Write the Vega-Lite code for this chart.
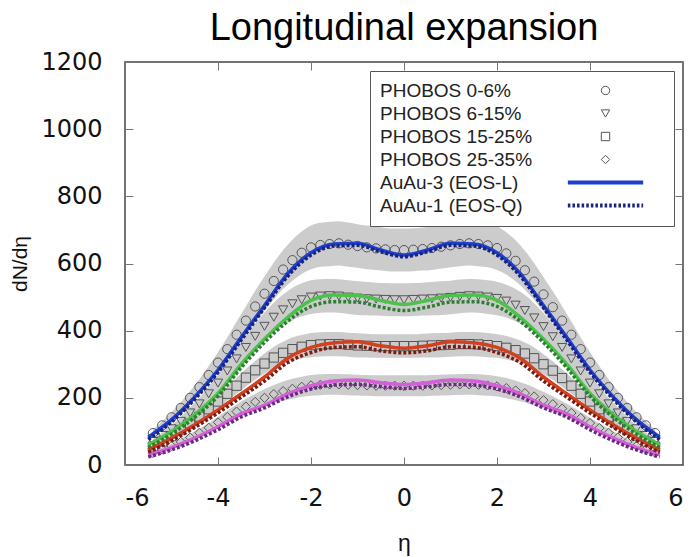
{
"$schema": "https://vega.github.io/schema/vega-lite/v6.json",
"width": 558, "height": 403,
"autosize": {"type": "none"},
"padding": {"left": 125, "top": 62, "right": 14, "bottom": 92},
"background": "white",
"title": {"text": "Longitudinal expansion", "font": "Liberation Sans", "fontSize": 38, "fontWeight": "normal", "color": "#000", "anchor": "middle", "offset": 2},
"config": {
  "view": {"stroke": "#444", "strokeWidth": 1.5},
  "axis": {"labelFont": "DejaVu Sans", "labelFontSize": 24, "labelColor": "#111", "titleFont": "Liberation Sans", "titleFontWeight": "normal", "titleColor": "#111", "domain": false, "grid": false, "tickColor": "#777", "tickWidth": 1, "tickSize": -8, "labelExpr": "datum.value + ''"},
  "legend": {"title": null, "orient": "top-right", "offset": 9, "strokeColor": "#555", "fillColor": "white", "padding": 10,
    "labelFont": "Liberation Sans", "labelFontSize": 19, "labelColor": "#222", "labelLimit": 300,
    "symbolOffset": 216, "labelOffset": -235, "rowPadding": 3, "symbolSize": 70, "symbolStrokeWidth": 1, "symbolOpacity": 1}
},
"datasets": {
"phobos": [
{"e":-5.4,"v":95,"lo":86,"hi":105,"s":"PHOBOS 0-6%"},{"e":-5.2,"v":118,"lo":106,"hi":130,"s":"PHOBOS 0-6%"},{"e":-5.0,"v":142,"lo":128,"hi":156,"s":"PHOBOS 0-6%"},{"e":-4.8,"v":170,"lo":153,"hi":187,"s":"PHOBOS 0-6%"},{"e":-4.6,"v":200,"lo":180,"hi":220,"s":"PHOBOS 0-6%"},{"e":-4.4,"v":232,"lo":209,"hi":255,"s":"PHOBOS 0-6%"},{"e":-4.2,"v":268,"lo":241,"hi":295,"s":"PHOBOS 0-6%"},{"e":-4.0,"v":305,"lo":275,"hi":336,"s":"PHOBOS 0-6%"},{"e":-3.8,"v":345,"lo":311,"hi":380,"s":"PHOBOS 0-6%"},{"e":-3.6,"v":388,"lo":349,"hi":427,"s":"PHOBOS 0-6%"},{"e":-3.4,"v":430,"lo":387,"hi":473,"s":"PHOBOS 0-6%"},{"e":-3.2,"v":472,"lo":425,"hi":519,"s":"PHOBOS 0-6%"},{"e":-3.0,"v":510,"lo":459,"hi":561,"s":"PHOBOS 0-6%"},{"e":-2.8,"v":548,"lo":493,"hi":603,"s":"PHOBOS 0-6%"},{"e":-2.6,"v":582,"lo":524,"hi":640,"s":"PHOBOS 0-6%"},{"e":-2.4,"v":610,"lo":549,"hi":671,"s":"PHOBOS 0-6%"},{"e":-2.2,"v":632,"lo":569,"hi":695,"s":"PHOBOS 0-6%"},{"e":-2.0,"v":648,"lo":583,"hi":713,"s":"PHOBOS 0-6%"},{"e":-1.8,"v":655,"lo":590,"hi":721,"s":"PHOBOS 0-6%"},{"e":-1.6,"v":658,"lo":592,"hi":724,"s":"PHOBOS 0-6%"},{"e":-1.4,"v":660,"lo":594,"hi":726,"s":"PHOBOS 0-6%"},{"e":-1.2,"v":656,"lo":590,"hi":722,"s":"PHOBOS 0-6%"},{"e":-1.0,"v":652,"lo":587,"hi":717,"s":"PHOBOS 0-6%"},{"e":-0.8,"v":648,"lo":583,"hi":713,"s":"PHOBOS 0-6%"},{"e":-0.6,"v":645,"lo":581,"hi":710,"s":"PHOBOS 0-6%"},{"e":-0.4,"v":642,"lo":578,"hi":706,"s":"PHOBOS 0-6%"},{"e":-0.2,"v":640,"lo":576,"hi":704,"s":"PHOBOS 0-6%"},{"e":0.0,"v":640,"lo":576,"hi":704,"s":"PHOBOS 0-6%"},
{"e":0.2,"v":641,"lo":577,"hi":705,"s":"PHOBOS 0-6%"},{"e":0.4,"v":643,"lo":579,"hi":707,"s":"PHOBOS 0-6%"},{"e":0.6,"v":646,"lo":581,"hi":711,"s":"PHOBOS 0-6%"},{"e":0.8,"v":650,"lo":585,"hi":715,"s":"PHOBOS 0-6%"},{"e":1.0,"v":654,"lo":589,"hi":719,"s":"PHOBOS 0-6%"},{"e":1.2,"v":658,"lo":592,"hi":724,"s":"PHOBOS 0-6%"},{"e":1.4,"v":660,"lo":594,"hi":726,"s":"PHOBOS 0-6%"},{"e":1.6,"v":658,"lo":592,"hi":724,"s":"PHOBOS 0-6%"},{"e":1.8,"v":654,"lo":589,"hi":719,"s":"PHOBOS 0-6%"},{"e":2.0,"v":646,"lo":581,"hi":711,"s":"PHOBOS 0-6%"},{"e":2.2,"v":630,"lo":567,"hi":693,"s":"PHOBOS 0-6%"},{"e":2.4,"v":608,"lo":547,"hi":669,"s":"PHOBOS 0-6%"},{"e":2.6,"v":580,"lo":522,"hi":638,"s":"PHOBOS 0-6%"},{"e":2.8,"v":546,"lo":491,"hi":601,"s":"PHOBOS 0-6%"},{"e":3.0,"v":508,"lo":457,"hi":559,"s":"PHOBOS 0-6%"},{"e":3.2,"v":470,"lo":423,"hi":517,"s":"PHOBOS 0-6%"},{"e":3.4,"v":430,"lo":387,"hi":473,"s":"PHOBOS 0-6%"},{"e":3.6,"v":388,"lo":349,"hi":427,"s":"PHOBOS 0-6%"},{"e":3.8,"v":345,"lo":311,"hi":380,"s":"PHOBOS 0-6%"},{"e":4.0,"v":305,"lo":275,"hi":336,"s":"PHOBOS 0-6%"},{"e":4.2,"v":268,"lo":241,"hi":295,"s":"PHOBOS 0-6%"},{"e":4.4,"v":232,"lo":209,"hi":255,"s":"PHOBOS 0-6%"},{"e":4.6,"v":200,"lo":180,"hi":220,"s":"PHOBOS 0-6%"},{"e":4.8,"v":170,"lo":153,"hi":187,"s":"PHOBOS 0-6%"},{"e":5.0,"v":142,"lo":128,"hi":156,"s":"PHOBOS 0-6%"},{"e":5.2,"v":118,"lo":106,"hi":130,"s":"PHOBOS 0-6%"},{"e":5.4,"v":95,"lo":86,"hi":105,"s":"PHOBOS 0-6%"},
{"e":-5.4,"v":70,"lo":63,"hi":77,"s":"PHOBOS 6-15%"},{"e":-5.2,"v":88,"lo":79,"hi":97,"s":"PHOBOS 6-15%"},{"e":-5.0,"v":108,"lo":97,"hi":119,"s":"PHOBOS 6-15%"},{"e":-4.8,"v":130,"lo":117,"hi":143,"s":"PHOBOS 6-15%"},{"e":-4.6,"v":155,"lo":140,"hi":171,"s":"PHOBOS 6-15%"},{"e":-4.4,"v":182,"lo":164,"hi":200,"s":"PHOBOS 6-15%"},{"e":-4.2,"v":212,"lo":191,"hi":233,"s":"PHOBOS 6-15%"},{"e":-4.0,"v":244,"lo":220,"hi":268,"s":"PHOBOS 6-15%"},{"e":-3.8,"v":280,"lo":252,"hi":308,"s":"PHOBOS 6-15%"},{"e":-3.6,"v":316,"lo":284,"hi":348,"s":"PHOBOS 6-15%"},{"e":-3.4,"v":350,"lo":315,"hi":385,"s":"PHOBOS 6-15%"},{"e":-3.2,"v":383,"lo":345,"hi":421,"s":"PHOBOS 6-15%"},{"e":-3.0,"v":413,"lo":372,"hi":454,"s":"PHOBOS 6-15%"},{"e":-2.8,"v":440,"lo":396,"hi":484,"s":"PHOBOS 6-15%"},{"e":-2.6,"v":462,"lo":416,"hi":508,"s":"PHOBOS 6-15%"},{"e":-2.4,"v":480,"lo":432,"hi":528,"s":"PHOBOS 6-15%"},{"e":-2.2,"v":492,"lo":443,"hi":541,"s":"PHOBOS 6-15%"},{"e":-2.0,"v":500,"lo":450,"hi":550,"s":"PHOBOS 6-15%"},{"e":-1.8,"v":503,"lo":453,"hi":553,"s":"PHOBOS 6-15%"},{"e":-1.6,"v":504,"lo":454,"hi":554,"s":"PHOBOS 6-15%"},{"e":-1.4,"v":503,"lo":453,"hi":553,"s":"PHOBOS 6-15%"},{"e":-1.2,"v":500,"lo":450,"hi":550,"s":"PHOBOS 6-15%"},{"e":-1.0,"v":497,"lo":447,"hi":547,"s":"PHOBOS 6-15%"},{"e":-0.8,"v":495,"lo":446,"hi":545,"s":"PHOBOS 6-15%"},{"e":-0.6,"v":494,"lo":445,"hi":543,"s":"PHOBOS 6-15%"},{"e":-0.4,"v":493,"lo":444,"hi":542,"s":"PHOBOS 6-15%"},{"e":-0.2,"v":492,"lo":443,"hi":541,"s":"PHOBOS 6-15%"},{"e":0.0,"v":492,"lo":443,"hi":541,"s":"PHOBOS 6-15%"},
{"e":0.2,"v":493,"lo":444,"hi":542,"s":"PHOBOS 6-15%"},{"e":0.4,"v":494,"lo":445,"hi":543,"s":"PHOBOS 6-15%"},{"e":0.6,"v":495,"lo":446,"hi":545,"s":"PHOBOS 6-15%"},{"e":0.8,"v":497,"lo":447,"hi":547,"s":"PHOBOS 6-15%"},{"e":1.0,"v":499,"lo":449,"hi":549,"s":"PHOBOS 6-15%"},{"e":1.2,"v":502,"lo":452,"hi":552,"s":"PHOBOS 6-15%"},{"e":1.4,"v":504,"lo":454,"hi":554,"s":"PHOBOS 6-15%"},{"e":1.6,"v":503,"lo":453,"hi":553,"s":"PHOBOS 6-15%"},{"e":1.8,"v":500,"lo":450,"hi":550,"s":"PHOBOS 6-15%"},{"e":2.0,"v":496,"lo":446,"hi":546,"s":"PHOBOS 6-15%"},{"e":2.2,"v":488,"lo":439,"hi":537,"s":"PHOBOS 6-15%"},{"e":2.4,"v":476,"lo":428,"hi":524,"s":"PHOBOS 6-15%"},{"e":2.6,"v":460,"lo":414,"hi":506,"s":"PHOBOS 6-15%"},{"e":2.8,"v":438,"lo":394,"hi":482,"s":"PHOBOS 6-15%"},{"e":3.0,"v":412,"lo":371,"hi":453,"s":"PHOBOS 6-15%"},{"e":3.2,"v":382,"lo":344,"hi":420,"s":"PHOBOS 6-15%"},{"e":3.4,"v":350,"lo":315,"hi":385,"s":"PHOBOS 6-15%"},{"e":3.6,"v":316,"lo":284,"hi":348,"s":"PHOBOS 6-15%"},{"e":3.8,"v":280,"lo":252,"hi":308,"s":"PHOBOS 6-15%"},{"e":4.0,"v":244,"lo":220,"hi":268,"s":"PHOBOS 6-15%"},{"e":4.2,"v":212,"lo":191,"hi":233,"s":"PHOBOS 6-15%"},{"e":4.4,"v":182,"lo":164,"hi":200,"s":"PHOBOS 6-15%"},{"e":4.6,"v":155,"lo":140,"hi":171,"s":"PHOBOS 6-15%"},{"e":4.8,"v":130,"lo":117,"hi":143,"s":"PHOBOS 6-15%"},{"e":5.0,"v":108,"lo":97,"hi":119,"s":"PHOBOS 6-15%"},{"e":5.2,"v":88,"lo":79,"hi":97,"s":"PHOBOS 6-15%"},{"e":5.4,"v":70,"lo":63,"hi":77,"s":"PHOBOS 6-15%"},
{"e":-5.4,"v":55,"lo":50,"hi":61,"s":"PHOBOS 15-25%"},{"e":-5.2,"v":70,"lo":63,"hi":77,"s":"PHOBOS 15-25%"},{"e":-5.0,"v":86,"lo":77,"hi":95,"s":"PHOBOS 15-25%"},{"e":-4.8,"v":104,"lo":94,"hi":114,"s":"PHOBOS 15-25%"},{"e":-4.6,"v":123,"lo":111,"hi":135,"s":"PHOBOS 15-25%"},{"e":-4.4,"v":144,"lo":130,"hi":158,"s":"PHOBOS 15-25%"},{"e":-4.2,"v":166,"lo":149,"hi":183,"s":"PHOBOS 15-25%"},{"e":-4.0,"v":189,"lo":170,"hi":208,"s":"PHOBOS 15-25%"},{"e":-3.8,"v":212,"lo":191,"hi":233,"s":"PHOBOS 15-25%"},{"e":-3.6,"v":236,"lo":212,"hi":260,"s":"PHOBOS 15-25%"},{"e":-3.4,"v":260,"lo":234,"hi":286,"s":"PHOBOS 15-25%"},{"e":-3.2,"v":282,"lo":254,"hi":310,"s":"PHOBOS 15-25%"},{"e":-3.0,"v":302,"lo":272,"hi":332,"s":"PHOBOS 15-25%"},{"e":-2.8,"v":320,"lo":288,"hi":352,"s":"PHOBOS 15-25%"},{"e":-2.6,"v":334,"lo":301,"hi":367,"s":"PHOBOS 15-25%"},{"e":-2.4,"v":345,"lo":311,"hi":380,"s":"PHOBOS 15-25%"},{"e":-2.2,"v":352,"lo":317,"hi":387,"s":"PHOBOS 15-25%"},{"e":-2.0,"v":357,"lo":321,"hi":393,"s":"PHOBOS 15-25%"},{"e":-1.8,"v":359,"lo":323,"hi":395,"s":"PHOBOS 15-25%"},{"e":-1.6,"v":360,"lo":324,"hi":396,"s":"PHOBOS 15-25%"},{"e":-1.4,"v":360,"lo":324,"hi":396,"s":"PHOBOS 15-25%"},{"e":-1.2,"v":358,"lo":322,"hi":394,"s":"PHOBOS 15-25%"},{"e":-1.0,"v":356,"lo":320,"hi":392,"s":"PHOBOS 15-25%"},{"e":-0.8,"v":355,"lo":320,"hi":391,"s":"PHOBOS 15-25%"},{"e":-0.6,"v":354,"lo":319,"hi":389,"s":"PHOBOS 15-25%"},{"e":-0.4,"v":354,"lo":319,"hi":389,"s":"PHOBOS 15-25%"},{"e":-0.2,"v":354,"lo":319,"hi":389,"s":"PHOBOS 15-25%"},{"e":0.0,"v":354,"lo":319,"hi":389,"s":"PHOBOS 15-25%"},
{"e":0.2,"v":354,"lo":319,"hi":389,"s":"PHOBOS 15-25%"},{"e":0.4,"v":355,"lo":320,"hi":391,"s":"PHOBOS 15-25%"},{"e":0.6,"v":356,"lo":320,"hi":392,"s":"PHOBOS 15-25%"},{"e":0.8,"v":357,"lo":321,"hi":393,"s":"PHOBOS 15-25%"},{"e":1.0,"v":358,"lo":322,"hi":394,"s":"PHOBOS 15-25%"},{"e":1.2,"v":360,"lo":324,"hi":396,"s":"PHOBOS 15-25%"},{"e":1.4,"v":360,"lo":324,"hi":396,"s":"PHOBOS 15-25%"},{"e":1.6,"v":359,"lo":323,"hi":395,"s":"PHOBOS 15-25%"},{"e":1.8,"v":357,"lo":321,"hi":393,"s":"PHOBOS 15-25%"},{"e":2.0,"v":354,"lo":319,"hi":389,"s":"PHOBOS 15-25%"},{"e":2.2,"v":349,"lo":314,"hi":384,"s":"PHOBOS 15-25%"},{"e":2.4,"v":342,"lo":308,"hi":376,"s":"PHOBOS 15-25%"},{"e":2.6,"v":332,"lo":299,"hi":365,"s":"PHOBOS 15-25%"},{"e":2.8,"v":318,"lo":286,"hi":350,"s":"PHOBOS 15-25%"},{"e":3.0,"v":300,"lo":270,"hi":330,"s":"PHOBOS 15-25%"},{"e":3.2,"v":281,"lo":253,"hi":309,"s":"PHOBOS 15-25%"},{"e":3.4,"v":259,"lo":233,"hi":285,"s":"PHOBOS 15-25%"},{"e":3.6,"v":236,"lo":212,"hi":260,"s":"PHOBOS 15-25%"},{"e":3.8,"v":212,"lo":191,"hi":233,"s":"PHOBOS 15-25%"},{"e":4.0,"v":189,"lo":170,"hi":208,"s":"PHOBOS 15-25%"},{"e":4.2,"v":166,"lo":149,"hi":183,"s":"PHOBOS 15-25%"},{"e":4.4,"v":144,"lo":130,"hi":158,"s":"PHOBOS 15-25%"},{"e":4.6,"v":123,"lo":111,"hi":135,"s":"PHOBOS 15-25%"},{"e":4.8,"v":104,"lo":94,"hi":114,"s":"PHOBOS 15-25%"},{"e":5.0,"v":86,"lo":77,"hi":95,"s":"PHOBOS 15-25%"},{"e":5.2,"v":70,"lo":63,"hi":77,"s":"PHOBOS 15-25%"},{"e":5.4,"v":55,"lo":50,"hi":61,"s":"PHOBOS 15-25%"},
{"e":-5.4,"v":36,"lo":31,"hi":41,"s":"PHOBOS 25-35%"},{"e":-5.2,"v":46,"lo":40,"hi":52,"s":"PHOBOS 25-35%"},{"e":-5.0,"v":57,"lo":50,"hi":64,"s":"PHOBOS 25-35%"},{"e":-4.8,"v":69,"lo":60,"hi":78,"s":"PHOBOS 25-35%"},{"e":-4.6,"v":82,"lo":71,"hi":93,"s":"PHOBOS 25-35%"},{"e":-4.4,"v":96,"lo":84,"hi":108,"s":"PHOBOS 25-35%"},{"e":-4.2,"v":111,"lo":97,"hi":125,"s":"PHOBOS 25-35%"},{"e":-4.0,"v":127,"lo":110,"hi":144,"s":"PHOBOS 25-35%"},{"e":-3.8,"v":143,"lo":124,"hi":162,"s":"PHOBOS 25-35%"},{"e":-3.6,"v":159,"lo":138,"hi":180,"s":"PHOBOS 25-35%"},{"e":-3.4,"v":174,"lo":151,"hi":197,"s":"PHOBOS 25-35%"},{"e":-3.2,"v":188,"lo":164,"hi":212,"s":"PHOBOS 25-35%"},{"e":-3.0,"v":200,"lo":174,"hi":226,"s":"PHOBOS 25-35%"},{"e":-2.8,"v":211,"lo":184,"hi":238,"s":"PHOBOS 25-35%"},{"e":-2.6,"v":220,"lo":191,"hi":249,"s":"PHOBOS 25-35%"},{"e":-2.4,"v":227,"lo":197,"hi":257,"s":"PHOBOS 25-35%"},{"e":-2.2,"v":233,"lo":203,"hi":263,"s":"PHOBOS 25-35%"},{"e":-2.0,"v":237,"lo":206,"hi":268,"s":"PHOBOS 25-35%"},{"e":-1.8,"v":239,"lo":208,"hi":270,"s":"PHOBOS 25-35%"},{"e":-1.6,"v":240,"lo":209,"hi":271,"s":"PHOBOS 25-35%"},{"e":-1.4,"v":240,"lo":209,"hi":271,"s":"PHOBOS 25-35%"},{"e":-1.2,"v":239,"lo":208,"hi":270,"s":"PHOBOS 25-35%"},{"e":-1.0,"v":238,"lo":207,"hi":269,"s":"PHOBOS 25-35%"},{"e":-0.8,"v":237,"lo":206,"hi":268,"s":"PHOBOS 25-35%"},{"e":-0.6,"v":236,"lo":205,"hi":267,"s":"PHOBOS 25-35%"},{"e":-0.4,"v":236,"lo":205,"hi":267,"s":"PHOBOS 25-35%"},{"e":-0.2,"v":236,"lo":205,"hi":267,"s":"PHOBOS 25-35%"},{"e":0.0,"v":236,"lo":205,"hi":267,"s":"PHOBOS 25-35%"},
{"e":0.2,"v":236,"lo":205,"hi":267,"s":"PHOBOS 25-35%"},{"e":0.4,"v":236,"lo":205,"hi":267,"s":"PHOBOS 25-35%"},{"e":0.6,"v":237,"lo":206,"hi":268,"s":"PHOBOS 25-35%"},{"e":0.8,"v":238,"lo":207,"hi":269,"s":"PHOBOS 25-35%"},{"e":1.0,"v":239,"lo":208,"hi":270,"s":"PHOBOS 25-35%"},{"e":1.2,"v":240,"lo":209,"hi":271,"s":"PHOBOS 25-35%"},{"e":1.4,"v":240,"lo":209,"hi":271,"s":"PHOBOS 25-35%"},{"e":1.6,"v":239,"lo":208,"hi":270,"s":"PHOBOS 25-35%"},{"e":1.8,"v":237,"lo":206,"hi":268,"s":"PHOBOS 25-35%"},{"e":2.0,"v":234,"lo":204,"hi":264,"s":"PHOBOS 25-35%"},{"e":2.2,"v":229,"lo":199,"hi":259,"s":"PHOBOS 25-35%"},{"e":2.4,"v":222,"lo":193,"hi":251,"s":"PHOBOS 25-35%"},{"e":2.6,"v":214,"lo":186,"hi":242,"s":"PHOBOS 25-35%"},{"e":2.8,"v":204,"lo":177,"hi":231,"s":"PHOBOS 25-35%"},{"e":3.0,"v":193,"lo":168,"hi":218,"s":"PHOBOS 25-35%"},{"e":3.2,"v":181,"lo":157,"hi":205,"s":"PHOBOS 25-35%"},{"e":3.4,"v":168,"lo":146,"hi":190,"s":"PHOBOS 25-35%"},{"e":3.6,"v":155,"lo":135,"hi":175,"s":"PHOBOS 25-35%"},{"e":3.8,"v":140,"lo":122,"hi":158,"s":"PHOBOS 25-35%"},{"e":4.0,"v":125,"lo":109,"hi":141,"s":"PHOBOS 25-35%"},{"e":4.2,"v":110,"lo":96,"hi":124,"s":"PHOBOS 25-35%"},{"e":4.4,"v":96,"lo":84,"hi":108,"s":"PHOBOS 25-35%"},{"e":4.6,"v":82,"lo":71,"hi":93,"s":"PHOBOS 25-35%"},{"e":4.8,"v":69,"lo":60,"hi":78,"s":"PHOBOS 25-35%"},{"e":5.0,"v":57,"lo":50,"hi":64,"s":"PHOBOS 25-35%"},{"e":5.2,"v":46,"lo":40,"hi":52,"s":"PHOBOS 25-35%"},{"e":5.4,"v":36,"lo":31,"hi":41,"s":"PHOBOS 25-35%"}
],
"model": [
{"e":-5.5,"L1":83,"Q1":76,"L2":60,"Q2":52,"L3":45,"Q3":38,"L4":30,"Q4":24},
{"e":-5.0,"L1":135,"Q1":128,"L2":100,"Q2":92,"L3":80,"Q3":72,"L4":52,"Q4":45},
{"e":-4.5,"L1":203,"Q1":196,"L2":150,"Q2":142,"L3":120,"Q3":112,"L4":80,"Q4":72},
{"e":-4.0,"L1":283,"Q1":276,"L2":214,"Q2":205,"L3":164,"Q3":155,"L4":114,"Q4":105},
{"e":-3.5,"L1":380,"Q1":372,"L2":300,"Q2":290,"L3":212,"Q3":202,"L4":152,"Q4":143},
{"e":-3.0,"L1":475,"Q1":468,"L2":375,"Q2":365,"L3":262,"Q3":250,"L4":178,"Q4":170},
{"e":-2.5,"L1":570,"Q1":562,"L2":440,"Q2":428,"L3":318,"Q3":305,"L4":212,"Q4":203},
{"e":-2.0,"L1":632,"Q1":625,"L2":490,"Q2":472,"L3":350,"Q3":335,"L4":236,"Q4":226},
{"e":-1.5,"L1":658,"Q1":652,"L2":506,"Q2":486,"L3":364,"Q3":350,"L4":250,"Q4":238},
{"e":-1.0,"L1":660,"Q1":654,"L2":505,"Q2":485,"L3":367,"Q3":352,"L4":253,"Q4":240},
{"e":-0.5,"L1":640,"Q1":635,"L2":490,"Q2":470,"L3":355,"Q3":340,"L4":245,"Q4":233},
{"e":0.0,"L1":625,"Q1":620,"L2":478,"Q2":460,"L3":348,"Q3":334,"L4":240,"Q4":228},
{"e":0.5,"L1":640,"Q1":635,"L2":490,"Q2":470,"L3":355,"Q3":340,"L4":245,"Q4":233},
{"e":1.0,"L1":660,"Q1":654,"L2":505,"Q2":485,"L3":367,"Q3":352,"L4":253,"Q4":240},
{"e":1.5,"L1":658,"Q1":652,"L2":506,"Q2":486,"L3":364,"Q3":350,"L4":250,"Q4":238},
{"e":2.0,"L1":632,"Q1":625,"L2":490,"Q2":472,"L3":350,"Q3":335,"L4":236,"Q4":226},
{"e":2.5,"L1":570,"Q1":562,"L2":440,"Q2":428,"L3":318,"Q3":305,"L4":212,"Q4":203},
{"e":3.0,"L1":475,"Q1":468,"L2":375,"Q2":365,"L3":262,"Q3":250,"L4":178,"Q4":170},
{"e":3.5,"L1":380,"Q1":372,"L2":300,"Q2":290,"L3":212,"Q3":202,"L4":152,"Q4":143},
{"e":4.0,"L1":283,"Q1":276,"L2":214,"Q2":205,"L3":164,"Q3":155,"L4":114,"Q4":105},
{"e":4.5,"L1":203,"Q1":196,"L2":150,"Q2":142,"L3":120,"Q3":112,"L4":80,"Q4":72},
{"e":5.0,"L1":135,"Q1":128,"L2":100,"Q2":92,"L3":80,"Q3":72,"L4":52,"Q4":45},
{"e":5.5,"L1":83,"Q1":76,"L2":60,"Q2":52,"L3":45,"Q3":38,"L4":30,"Q4":24}
]
},
"layer": [
{
  "data": {"name": "phobos"},
  "mark": {"type": "area", "color": "#c6c6c6", "opacity": 0.9, "interpolate": "monotone"},
  "encoding": {
    "x": {"field": "e", "type": "quantitative", "scale": {"domain": [-6, 6], "nice": false},
      "axis": {"values": [-6,-4,-2,0,2,4,6], "title": "η", "titleFontSize": 23, "labelPadding": 29, "titlePadding": 22}},
    "y": {"field": "lo", "type": "quantitative", "scale": {"domain": [0, 1200], "nice": false},
      "axis": {"values": [0,200,400,600,800,1000,1200], "title": "dN/dη", "titleFontSize": 21, "labelPadding": 31, "titlePadding": 10}},
    "y2": {"field": "hi"},
    "detail": {"field": "s"}
  }
},
{
  "data": {"name": "phobos"},
  "mark": {"type": "point", "filled": true, "size": 85, "strokeWidth": 1, "opacity": 1},
  "encoding": {
    "x": {"field": "e", "type": "quantitative", "axis": null},
    "y": {"field": "v", "type": "quantitative", "axis": null},
    "shape": {"field": "s", "type": "nominal",
      "scale": {"domain": ["PHOBOS 0-6%","PHOBOS 6-15%","PHOBOS 15-25%","PHOBOS 25-35%","AuAu-3 (EOS-L)","AuAu-1 (EOS-Q)"],
                "range": ["circle","triangle-down","square","diamond","M-9,-0.48H9V0.48H-9ZM13.4,0","M-9,-0.48h0.6v0.96h-0.6zM-7.9,-0.48h0.6v0.96h-0.6zM-6.8,-0.48h0.6v0.96h-0.6zM-5.7,-0.48h0.6v0.96h-0.6zM-4.6,-0.48h0.6v0.96h-0.6zM-3.5,-0.48h0.6v0.96h-0.6zM-2.4,-0.48h0.6v0.96h-0.6zM-1.3,-0.48h0.6v0.96h-0.6zM-0.2,-0.48h0.6v0.96h-0.6zM0.9,-0.48h0.6v0.96h-0.6zM2,-0.48h0.6v0.96h-0.6zM3.1,-0.48h0.6v0.96h-0.6zM4.2,-0.48h0.6v0.96h-0.6zM5.3,-0.48h0.6v0.96h-0.6zM6.4,-0.48h0.6v0.96h-0.6zM7.5,-0.48h0.6v0.96h-0.6zM8.6,-0.48h0.4v0.96h-0.4zM13.4,0"]},
      "legend": {"title": null}},
    "fill": {"field": "s", "type": "nominal",
      "scale": {"domain": ["PHOBOS 0-6%","PHOBOS 6-15%","PHOBOS 15-25%","PHOBOS 25-35%","AuAu-3 (EOS-L)","AuAu-1 (EOS-Q)"],
                "range": ["transparent","transparent","transparent","transparent","#1f3fd0","#1a237e"]},
      "legend": {"title": null}},
    "stroke": {"field": "s", "type": "nominal",
      "scale": {"domain": ["PHOBOS 0-6%","PHOBOS 6-15%","PHOBOS 15-25%","PHOBOS 25-35%","AuAu-3 (EOS-L)","AuAu-1 (EOS-Q)"],
                "range": ["#555555","#555555","#555555","#555555","transparent","transparent"]},
      "legend": {"title": null}}
  }
},
{
  "data": {"name": "model"},
  "transform": [{"fold": ["L1","L2","L3","L4"], "as": ["k","val"]}],
  "mark": {"type": "line", "strokeWidth": 3.5, "interpolate": "monotone"},
  "encoding": {
    "x": {"field": "e", "type": "quantitative", "axis": null},
    "y": {"field": "val", "type": "quantitative", "axis": null},
    "color": {"field": "k", "type": "nominal", "legend": null,
      "scale": {"domain": ["L1","L2","L3","L4","Q1","Q2","Q3","Q4"], "range": ["#1f3fd0","#4cc24c","#d2401f","#d45fd8","#1a237e","#2e7d32","#7a1c12","#6a2a80"]}}
  }
},
{
  "data": {"name": "model"},
  "transform": [{"fold": ["Q1","Q2","Q3","Q4"], "as": ["k","val"]}],
  "mark": {"type": "line", "strokeWidth": 3.5, "strokeDash": [3, 2], "interpolate": "monotone"},
  "encoding": {
    "x": {"field": "e", "type": "quantitative", "axis": {"orient": "top", "values": [-6,-4,-2,0,2,4,6], "labels": false, "title": null}},
    "y": {"field": "val", "type": "quantitative", "axis": {"orient": "right", "values": [0,200,400,600,800,1000,1200], "labels": false, "title": null}},
    "color": {"field": "k", "type": "nominal", "legend": null,
      "scale": {"domain": ["L1","L2","L3","L4","Q1","Q2","Q3","Q4"], "range": ["#1f3fd0","#4cc24c","#d2401f","#d45fd8","#1a237e","#2e7d32","#7a1c12","#6a2a80"]}}
  }
}
],
"resolve": {"axis": {"x": "independent", "y": "independent"}}
}
